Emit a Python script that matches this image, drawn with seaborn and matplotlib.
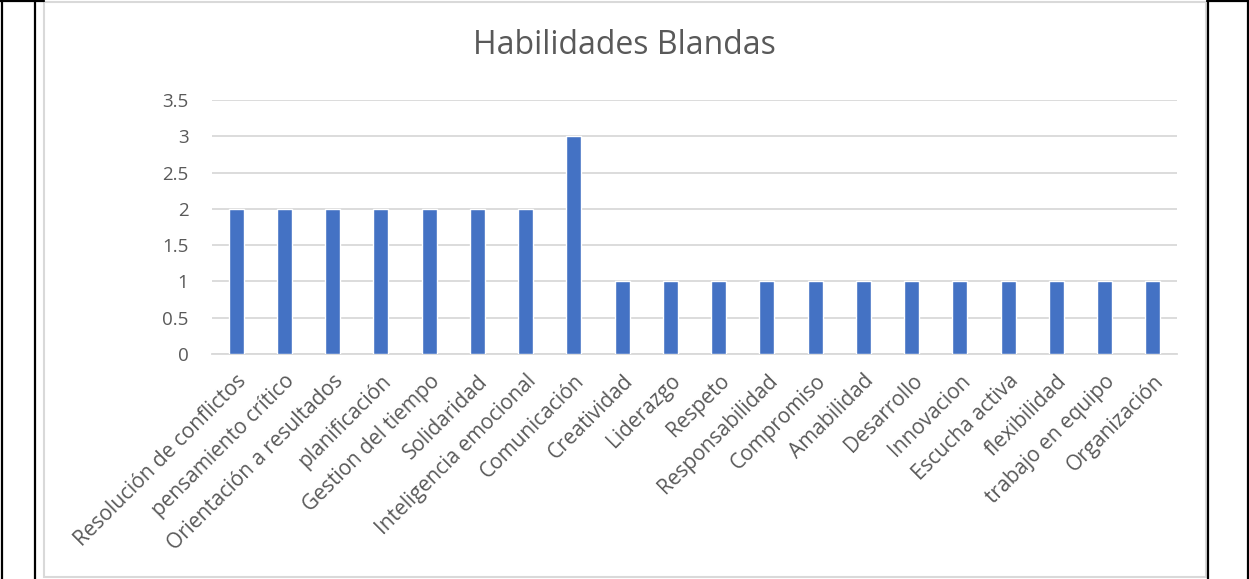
import matplotlib
matplotlib.use("Agg")
import matplotlib.pyplot as plt
import seaborn as sns
import pandas as pd
from matplotlib.lines import Line2D
from matplotlib.patches import Rectangle

habilidades = [
    "Resolución de conflictos", "pensamiento crítico", "Orientación a resultados",
    "planificación", "Gestion del tiempo", "Solidaridad", "Inteligencia emocional",
    "Comunicación", "Creatividad", "Liderazgo", "Respeto", "Responsabilidad",
    "Compromiso", "Amabilidad", "Desarrollo", "Innovacion", "Escucha activa",
    "flexibilidad", "trabajo en equipo", "Organización",
]
frecuencia = [2, 2, 2, 2, 2, 2, 2, 3, 1, 1, 1, 1, 1, 1, 1, 1, 1, 1, 1, 1]
y_ticks = [0, 0.5, 1, 1.5, 2, 2.5, 3, 3.5]
y_tick_labels = ["0", "0.5", "1", "1.5", "2", "2.5", "3", "3.5"]
titulo = "Habilidades Blandas"

sns.set_theme(style="white")
plt.rcParams["font.family"] = ["Open Sans", "DejaVu Sans"]

W, H = 1249, 579
fig = plt.figure(figsize=(W / 100, H / 100), dpi=100)
fig.patch.set_facecolor("white")

# table cell borders around the chart
for x in (1.5 / W, 35 / W, 1207.5 / W, 1248 / W):
    fig.add_artist(Line2D([x, x], [0, 1], transform=fig.transFigure,
                          color="black", lw=1.6))
fig.add_artist(Line2D([0, 44 / W], [1 - 1 / H, 1 - 1 / H], transform=fig.transFigure,
                      color="black", lw=1.6))
fig.add_artist(Line2D([1207 / W, 1], [1 - 1 / H, 1 - 1 / H], transform=fig.transFigure,
                      color="black", lw=1.6))

# chart area frame
fig.add_artist(Rectangle((44 / W, 1 - 577 / H), (1206 - 44) / W, (577 - 2) / H,
                         transform=fig.transFigure, fill=False,
                         edgecolor="#d9d9d9", lw=1.5))

ax = fig.add_axes([212 / W, 1 - 354 / H, (1177 - 212) / W, (354 - 100) / H])
df = pd.DataFrame({"habilidad": habilidades, "valor": frecuencia})
sns.barplot(data=df, x="habilidad", y="valor", color="#4472C4", saturation=1,
            width=0.31, ax=ax, zorder=3)

ax.set_ylim(0, 3.5)
ax.set_xlim(-0.5, len(habilidades) - 0.5)
ax.set_yticks(y_ticks)
ax.set_yticklabels(y_tick_labels)
ax.yaxis.grid(True, color="#d9d9d9", lw=1.3, zorder=0)
ax.xaxis.grid(False)
for side in ("left", "right", "top"):
    ax.spines[side].set_visible(False)
ax.spines["bottom"].set_color("#d9d9d9")
ax.spines["bottom"].set_linewidth(1.3)
ax.set_xlabel("")
ax.set_ylabel("")
ax.tick_params(axis="both", length=0, colors="#595959")
ax.tick_params(axis="y", pad=17, labelsize=13.5)
ax.set_xticks(range(len(habilidades)))
ax.set_xticklabels(habilidades, rotation=45, ha="right", rotation_mode="anchor",
                   color="#595959", fontsize=15)
ax.tick_params(axis="x", pad=12)

fig.text(624 / W, 1 - 46 / H, titulo, ha="center", va="center",
         fontsize=23, color="#595959")

fig.savefig("out.png", dpi=100)
